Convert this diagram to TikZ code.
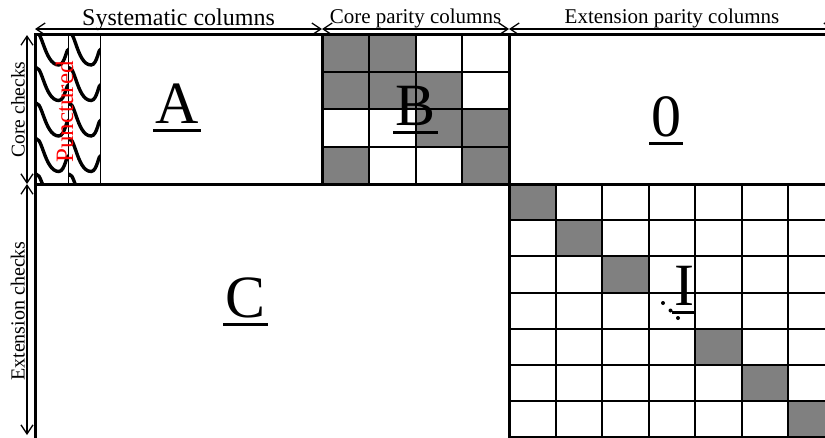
\documentclass[tikz,border=0pt]{standalone}
\usepackage{fontspec}
\setmainfont{Liberation Serif}
\usetikzlibrary{arrows.meta}
\newsavebox\lblbox
\newcommand\ulabel[1]{\sbox\lblbox{#1}\rlap{\hskip-2pt\rule[-8.5pt]{\dimexpr\wd\lblbox+4pt\relax}{3pt}}\usebox\lblbox}
\begin{document}
\begin{tikzpicture}[x=1pt,y=-1pt,
 frame/.style={line width=3pt,line cap=rect},
 gridl/.style={line width=2pt},
 thinl/.style={line width=1pt},
 wave/.style={line width=3.4pt,black},
 dimarrow/.style={line width=1.3pt,{Straight Barb[length=9pt,width=12pt,line width=1.3pt]}-{Straight Barb[length=9pt,width=12pt,line width=1.3pt]}},
 big/.style={font=\fontsize{60}{60}\selectfont,inner sep=0pt,anchor=base},
 dimlbl/.style={inner sep=0pt,anchor=base},
]
\useasboundingbox (0,0) rectangle (825,437);
% --- B block gray cells
\foreach \r/\c in {0/0,0/1,1/0,1/1,1/2,2/2,2/3,3/0,3/3}
  \fill[gray] ({322+\c*46.75},{34+\r*37.5}) rectangle ++(46.75,37.5);
% --- I block gray cells
\foreach \k in {0,1,2,4,5,6}
  \fill[gray] ({509+\k*46.5},{184+\k*36.2}) rectangle ++(46.5,36.2);
% --- B grid
\foreach \k in {1,2,3} {
  \draw[gridl] ({322+\k*46.75},34) -- ({322+\k*46.75},184);
  \draw[gridl] (322,{34+\k*37.5}) -- (509,{34+\k*37.5});
}
% --- I grid
\foreach \k in {1,...,7} {
  \draw[gridl] ({509+\k*46.5},184) -- ({509+\k*46.5},440);
  \draw[gridl] (509,{184+\k*36.2}) -- (830,{184+\k*36.2});
}
% --- punctured columns waves
\foreach \xo/\w in {35/33,68/32} {
  \begin{scope}
    \clip (\xo,34) rectangle ({\xo+\w},184);
    \foreach \s in {2.5,38,73.5,109,144.5,180}
      \draw[wave] ({\xo-1},{\s-3}) to[out=60,in=180] ({\xo+0.72*\w},{\s+27}) to[out=0,in=110] ({\xo+\w+1},{\s+13});
  \end{scope}
}
\draw[thinl] (68,34) -- (68,184);
\draw[thinl] (100,34) -- (100,184);
% --- frame lines
\draw[frame] (35,34) -- (830,34);
\draw[frame] (35,34) -- (35,440);
\draw[frame] (35,184) -- (830,184);
\draw[frame] (322,34) -- (322,184);
\draw[frame] (509,34) -- (509,440);
% --- block labels
\node[big] (lA) at (177,123) {\ulabel{A}};
\node[big] (lB) at (415.5,125) {\ulabel{B}};
\node[big] (l0) at (666,136) {\ulabel{0}};
\node[big] (lC) at (245.5,317) {\ulabel{C}};
\node[big] (lI) at (684,305) {\ulabel{I}};
\fill (663,303) circle[radius=2pt];
\fill (670.5,310.5) circle[radius=2pt];
\fill (678,318) circle[radius=2pt];
\node[inner sep=0pt,anchor=base,rotate=90,text=red,font=\fontsize{25}{25}\selectfont] (punc) at (73,112) {Punctured};
% --- dimension arrows
\coordinate (tA) at (35,29);
\coordinate (tB) at (322,29);
\coordinate (tC) at (509,29);
\coordinate (tD) at (834,29);
\coordinate (sA) at (27,35);
\coordinate (sB) at (27,184);
\coordinate (sC) at (27,435);
\draw[dimarrow] (tA) -- (tB);
\draw[dimarrow] (tB) -- (tC);
\draw[dimarrow] (tC) -- (tD);
\draw[dimarrow] (sA) -- (sB);
\draw[dimarrow] (sB) -- (sC);
\node[dimlbl,font=\fontsize{24}{24}\selectfont] (sys) at (178.5,25) {Systematic columns};
\node[dimlbl,font=\fontsize{21}{21}\selectfont] (cpc) at (415.5,23.5) {Core parity columns};
\node[dimlbl,font=\fontsize{21}{21}\selectfont] (epc) at (672,23.5) {Extension parity columns};
\node[dimlbl,rotate=90,font=\fontsize{19.5}{19.5}\selectfont] (cc) at (24.5,109.5) {Core checks};
\node[dimlbl,rotate=90,font=\fontsize{20}{20}\selectfont] (ec) at (24.5,311) {Extension checks};
\end{tikzpicture}
\end{document}
